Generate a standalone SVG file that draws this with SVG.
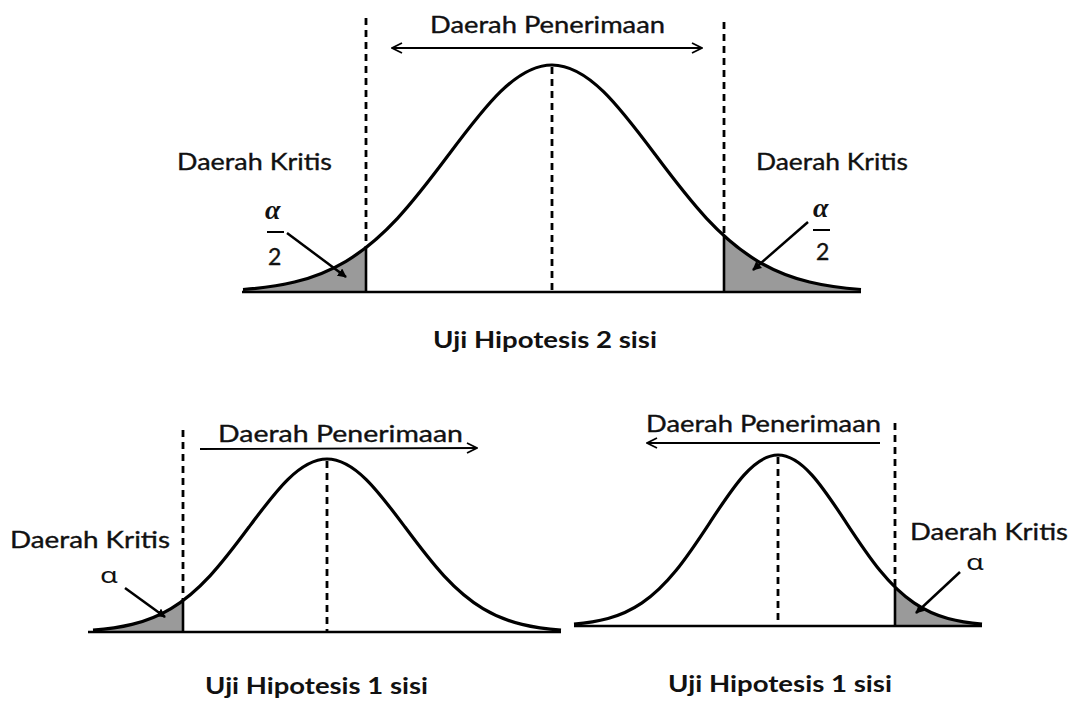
<svg xmlns="http://www.w3.org/2000/svg" width="1073" height="702" viewBox="0 0 1073 702">
<style>
  .lbl { font-family: Lato, "Open Sans", "Liberation Sans", sans-serif; font-size: 23px; fill: #111; stroke: #111; stroke-width: 0.35; }
  .ttl { font-family: Lato, "Open Sans", "Liberation Sans", sans-serif; font-size: 22px; font-weight: bold; fill: #111; }
  .alpha-i { font-family: "Liberation Serif", "DejaVu Serif", serif; font-style: italic; font-weight: bold; font-size: 28px; fill: #111; }
  .alpha { font-family: "Noto Sans", "DejaVu Sans", sans-serif; font-size: 21px; fill: #111; }
  .curve { fill: none; stroke: #000; stroke-width: 3.2; stroke-linejoin: round; }
  .base { stroke: #000; stroke-width: 2.6; }
  .dash { stroke: #000; stroke-width: 2.8; stroke-dasharray: 7 5; }
  .edge { stroke: #000; stroke-width: 2.6; }
  .shade { fill: #9a9a9a; stroke: none; }
  .harrow { stroke: #000; stroke-width: 1.8; fill: none; }
  .ptr { stroke: #000; stroke-width: 2.5; fill: none; }
  .bar { stroke: #000; stroke-width: 2; }
</style>
<defs>
  <marker id="open" viewBox="0 0 12 12" refX="11" refY="6" markerWidth="12" markerHeight="12" orient="auto-start-reverse" markerUnits="userSpaceOnUse">
    <path d="M1,1 L11,6 L1,11" fill="none" stroke="#000" stroke-width="1.8"/>
  </marker>
  <marker id="solid" viewBox="0 0 10 10" refX="9" refY="5" markerWidth="9" markerHeight="9" orient="auto" markerUnits="userSpaceOnUse">
    <path d="M0,0 L10,5 L0,10 Z" fill="#000"/>
  </marker>
  <clipPath id="clipTL"><rect x="0" y="0" width="366" height="300"/></clipPath>
  <clipPath id="clipTR"><rect x="724" y="0" width="349" height="300"/></clipPath>
  <clipPath id="clipBL"><rect x="0" y="400" width="183" height="240"/></clipPath>
  <clipPath id="clipBR"><rect x="895" y="400" width="178" height="240"/></clipPath>
  <path id="c1" d="M 243 289.48 C 260.17 288.22, 277.33 286.19, 294.5 282.03 C 311.67 277.87, 328.83 271.52, 346 261.28 C 363.17 251.04, 380.33 236.72, 397.5 218.30 C 414.67 199.88, 431.83 177.27, 449 154.32 C 466.17 131.37, 483.33 108.36, 500.5 91.67 C 517.67 74.98, 534.83 65, 552 65 C 569.17 65, 586.33 74.98, 603.5 91.67 C 620.67 108.36, 637.83 131.37, 655 154.32 C 672.17 177.27, 689.33 199.88, 706.5 218.30 C 723.67 236.72, 740.83 251.04, 758 261.28 C 775.17 271.52, 792.33 277.87, 809.5 282.03 C 826.67 286.19, 843.83 288.22, 861 289.48"/>
  <path id="c2" d="M 93 630.08 C 106 629.12, 119 627.57, 132 624.40 C 145 621.23, 158 616.39, 171 608.59 C 184 600.79, 197 589.88, 210 575.84 C 223 561.80, 236 544.56, 249 527.07 C 262 509.58, 275 492.05, 288 479.33 C 301 466.61, 314 459, 327 459 C 340 459, 353 466.61, 366 479.33 C 379 492.05, 392 509.58, 405 527.07 C 418 544.56, 431 561.80, 444 575.84 C 457 589.88, 470 600.79, 483 608.59 C 496 616.39, 509 621.23, 522 624.40 C 535 627.57, 548 629.12, 561 630.08"/>
  <path id="c3" d="M 574 624.10 C 585.33 623.15, 596.67 621.62, 608 618.49 C 619.33 615.36, 630.67 610.57, 642 602.86 C 653.33 595.15, 664.67 584.36, 676 570.48 C 687.33 556.60, 698.67 539.57, 710 522.28 C 721.33 504.99, 732.67 487.67, 744 475.09 C 755.33 462.51, 766.67 455, 778 455 C 789.33 455, 800.67 462.51, 812 475.09 C 823.33 487.67, 834.67 504.99, 846 522.28 C 857.33 539.57, 868.67 556.60, 880 570.48 C 891.33 584.36, 902.67 595.15, 914 602.86 C 925.33 610.57, 936.67 615.36, 948 618.49 C 959.33 621.62, 970.67 623.15, 982 624.10"/>
</defs>
<rect width="1073" height="702" fill="#fff"/>

<g id="panel-two-sided">
  <path class="shade" clip-path="url(#clipTL)" d="M 243 289.48 C 260.17 288.22, 277.33 286.19, 294.5 282.03 C 311.67 277.87, 328.83 271.52, 346 261.28 C 363.17 251.04, 380.33 236.72, 397.5 218.30 L 397.5 292 L 243 292 Z"/>
  <path class="shade" clip-path="url(#clipTR)" d="M 706.5 218.30 C 723.67 236.72, 740.83 251.04, 758 261.28 C 775.17 271.52, 792.33 277.87, 809.5 282.03 C 826.67 286.19, 843.83 288.22, 861 289.48 L 861 292 L 706.5 292 Z"/>
  <line class="base" x1="242" y1="292" x2="861" y2="292"/>
  <use href="#c1" class="curve"/>
  <line class="dash" x1="366" y1="18" x2="366" y2="247"/>
  <line class="edge" x1="366" y1="247" x2="366" y2="292"/>
  <line class="dash" x1="724" y1="22" x2="724" y2="236"/>
  <line class="edge" x1="724" y1="236" x2="724" y2="292"/>
  <line class="dash" x1="552" y1="67" x2="552" y2="292"/>
  <text class="lbl" x="430" y="33" textLength="235" lengthAdjust="spacingAndGlyphs">Daerah Penerimaan</text>
  <text class="lbl" x="177" y="170" textLength="155" lengthAdjust="spacingAndGlyphs">Daerah Kritis</text>
  <text class="lbl" x="756" y="170" textLength="152" lengthAdjust="spacingAndGlyphs">Daerah Kritis</text>
  <text class="alpha-i" x="265" y="219">α</text>
  <line class="bar" x1="267" y1="232" x2="284" y2="232"/>
  <text class="lbl" x="268" y="265">2</text>
  <text class="alpha-i" x="813" y="217">α</text>
  <line class="bar" x1="813" y1="230" x2="830" y2="230"/>
  <text class="lbl" x="816" y="260">2</text>
  <text class="ttl" x="433" y="348" textLength="224" lengthAdjust="spacingAndGlyphs">Uji Hipotesis 2 sisi</text>
</g>

<g id="panel-left-sided">
  <path class="shade" clip-path="url(#clipBL)" d="M 93 630.08 C 106 629.12, 119 627.57, 132 624.40 C 145 621.23, 158 616.39, 171 608.59 C 184 600.79, 197 589.88, 210 575.84 L 210 632 L 93 632 Z"/>
  <line class="base" x1="88" y1="632" x2="561" y2="632"/>
  <use href="#c2" class="curve"/>
  <line class="dash" x1="183" y1="430" x2="183" y2="600"/>
  <line class="edge" x1="183" y1="600" x2="183" y2="632"/>
  <line class="dash" x1="327" y1="461" x2="327" y2="632"/>
  <text class="lbl" x="218" y="442" textLength="245" lengthAdjust="spacingAndGlyphs">Daerah Penerimaan</text>
  <text class="lbl" x="10" y="548" textLength="160" lengthAdjust="spacingAndGlyphs">Daerah Kritis</text>
  <text class="alpha" x="100" y="583" textLength="18" lengthAdjust="spacingAndGlyphs">α</text>
  <text class="ttl" x="205" y="694" textLength="223" lengthAdjust="spacingAndGlyphs">Uji Hipotesis 1 sisi</text>
</g>

<g id="panel-right-sided">
  <path class="shade" clip-path="url(#clipBR)" d="M 880 570.48 C 891.33 584.36, 902.67 595.15, 914 602.86 C 925.33 610.57, 936.67 615.36, 948 618.49 C 959.33 621.62, 970.67 623.15, 982 624.10 L 982 626 L 880 626 Z"/>
  <line class="base" x1="574" y1="626" x2="982" y2="626"/>
  <use href="#c3" class="curve"/>
  <line class="dash" x1="895" y1="423" x2="895" y2="588"/>
  <line class="edge" x1="895" y1="588" x2="895" y2="626"/>
  <line class="dash" x1="778" y1="457" x2="778" y2="626"/>
  <text class="lbl" x="646" y="432" textLength="235" lengthAdjust="spacingAndGlyphs">Daerah Penerimaan</text>
  <text class="lbl" x="910" y="540" textLength="158" lengthAdjust="spacingAndGlyphs">Daerah Kritis</text>
  <text class="alpha" x="966" y="570" textLength="18" lengthAdjust="spacingAndGlyphs">α</text>
  <text class="ttl" x="668" y="692" textLength="224" lengthAdjust="spacingAndGlyphs">Uji Hipotesis 1 sisi</text>
</g>

<g id="connectors">
  <line class="harrow" x1="392" y1="48" x2="702" y2="48" marker-start="url(#open)" marker-end="url(#open)"/>
  <line class="harrow" x1="200" y1="449" x2="477" y2="448" marker-end="url(#open)"/>
  <line class="harrow" x1="880" y1="443" x2="647" y2="443" marker-end="url(#open)"/>
  <line class="ptr" x1="287" y1="233" x2="346" y2="277" marker-end="url(#solid)"/>
  <line class="ptr" x1="808" y1="222" x2="753" y2="270" marker-end="url(#solid)"/>
  <line class="ptr" x1="125" y1="588" x2="165" y2="617" marker-end="url(#solid)"/>
  <line class="ptr" x1="960" y1="572" x2="916" y2="613" marker-end="url(#solid)"/>
</g>
</svg>
